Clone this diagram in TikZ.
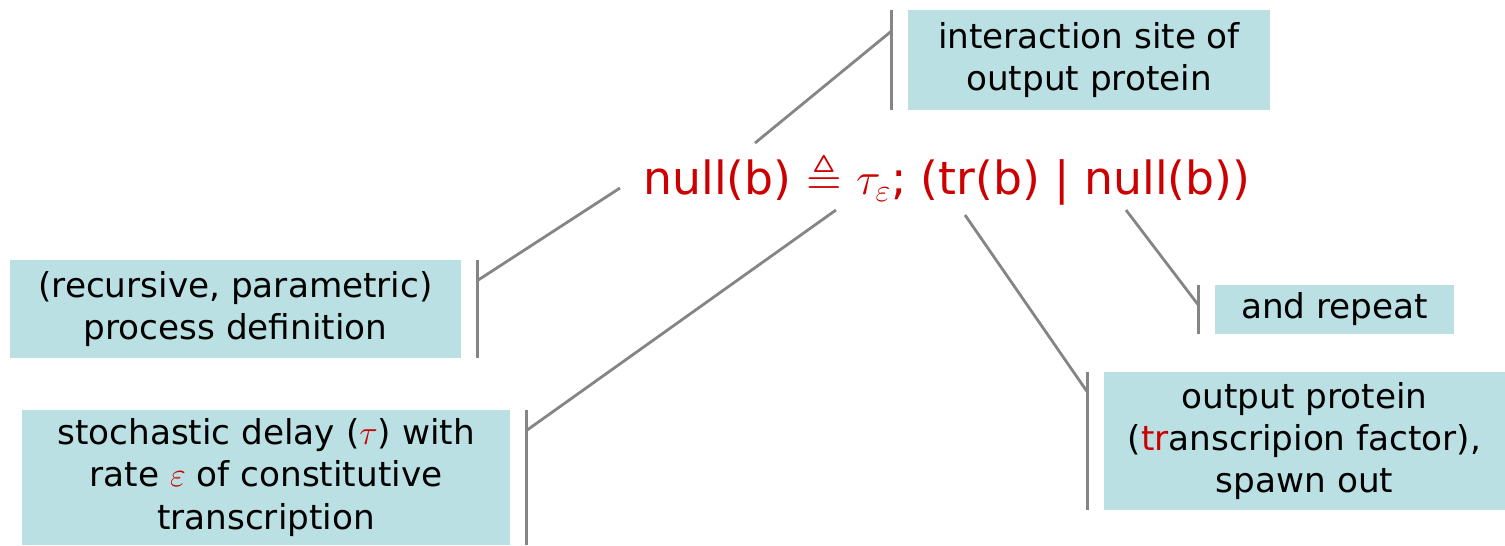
\RequirePackage{fix-cm}
\documentclass[tikz,border=0pt]{standalone}
\usepackage{fontspec}
\usepackage{amssymb}
\setmainfont{DejaVu Sans}
\definecolor{boxblue}{HTML}{BAE0E3}
\definecolor{defred}{HTML}{CC0000}
\definecolor{leadgray}{HTML}{858585}
\tikzset{
	note/.style={fill=boxblue, align=center, inner sep=0pt, font=\fontsize{19.5}{24}\selectfont},
	lead/.style={draw=leadgray, line width=1.6pt},
}
\begin{document}
\begin{tikzpicture}[x=0.02cm, y=-0.02cm]
		\useasboundingbox (0, 0) rectangle (1505, 545);
		\node[note, minimum width=7.24cm, minimum height=2cm] (site) at (1089, 60) {interaction site of\\output protein};
		\node[note, minimum width=9.02cm, minimum height=1.96cm] (procdef) at (235.5, 309) {(recursive, parametric)\\process definition};
		\node[note, minimum width=9.76cm, minimum height=2.7cm] (delay) at (266, 477.5) {stochastic delay ({\color{defred}$\tau$}) with\\rate {\color{defred}$\varepsilon$} of constitutive\\transcription};
		\node[note, minimum width=4.78cm, minimum height=0.98cm] (repeat) at (1334.5, 309.5) {and repeat};
		\node[note, minimum width=8.02cm, minimum height=2.76cm] (tf) at (1304.5, 441) {output protein\\({\color{defred}tr}anscripion factor),\\spawn out};
		\node[text=defred, font=\fontsize{26}{32}\selectfont] (def) at (947, 179) {null(b) $\triangleq$ $\tau_{\varepsilon}$; (tr(b) | null(b))};
		\coordinate (tsite) at (755, 143);
		\coordinate (tprocdef) at (620, 188);
		\coordinate (tdelay) at (836, 210);
		\coordinate (trepeat) at (1126, 210);
		\coordinate (ttf) at (965, 215);
		\foreach \b/\side/\s in {site/west/-9, procdef/east/9, delay/east/9, repeat/west/-9, tf/west/-9}{
			\draw[lead] ([xshift=\s pt]\b.north \side) -- ([xshift=\s pt]\b.south \side);
			\draw[lead] ([xshift=\s pt, yshift=-12pt]\b.north \side) -- (t\b);
		}
	\end{tikzpicture}
\end{document}
